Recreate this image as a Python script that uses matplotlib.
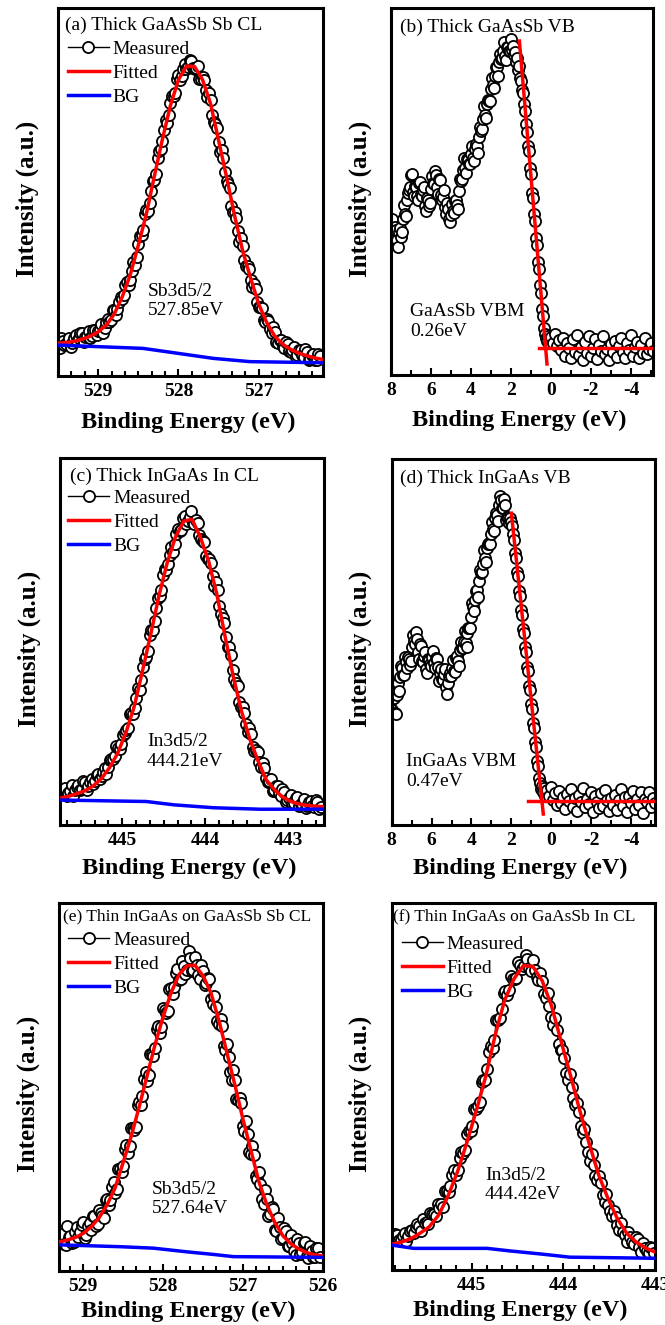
import numpy as np
import matplotlib.pyplot as plt
from matplotlib.ticker import AutoMinorLocator

plt.rcParams['font.family'] = ['Liberation Serif', 'DejaVu Serif']

# ---- (a) thick GaAsSb, Sb 3d5/2 core level (529.48 -> 526.24 eV) ----
a_meas = [7.6, 10.3, 9.6, 8.4, 8.6, 9.4, 10.4, 7.9, 9.0, 10.3, 11.2, 9.5, 10.3, 11.6, 11.8, 9.2,
          10.6, 11.0, 12.3, 10.3, 11.0, 12.6, 12.6, 11.1, 12.2, 12.6, 14.1, 11.7, 13.0, 14.8,
          15.4, 14.8, 15.1, 17.9, 17.9, 16.7, 18.2, 20.1, 21.6, 21.0, 22.0, 24.8, 25.6, 24.8,
          26.1, 28.4, 31.0, 30.2, 32.4, 35.9, 38.1, 38.4, 39.6, 43.9, 45.2, 44.9, 47.0, 50.3,
          52.9, 53.3, 55.0, 59.2, 61.2, 61.7, 63.9, 66.8, 69.6, 68.7, 71.0, 74.3, 76.2, 76.1,
          77.0, 80.8, 81.8, 80.4, 81.6, 83.4, 84.9, 83.5, 83.9, 85.8, 85.6, 83.6, 83.4, 83.7,
          84.2, 80.7, 80.6, 81.2, 80.5, 77.7, 75.8, 77.0, 75.1, 71.0, 69.1, 68.5, 67.3, 63.5,
          60.9, 61.3, 59.2, 55.3, 53.0, 52.1, 51.0, 46.3, 44.7, 44.5, 42.8, 39.3, 36.4, 37.4,
          35.3, 31.5, 30.0, 29.9, 29.1, 26.0, 24.2, 25.0, 23.6, 20.2, 18.7, 18.7, 18.6, 15.1,
          14.7, 15.6, 14.9, 12.9, 11.6, 13.3, 11.9, 9.3, 9.0, 9.8, 9.9, 8.1, 7.6, 9.3, 8.8,
          6.8, 6.5, 7.2, 7.9, 5.2, 5.8, 7.2, 7.0, 5.8, 5.2, 7.4, 6.4, 4.4, 4.7, 5.7, 5.9, 4.4,
          4.3, 6.0, 5.4]
a_fit = [8.9, 9.1, 9.4, 10.0, 10.8, 12.0, 13.8, 16.8, 21.5, 27.5, 35.5, 44.0, 54.3, 64.3,
         73.5, 80.5, 84.2, 84.1, 80.5, 74.0, 64.0, 54.0, 43.5, 34.0, 26.5, 19.5, 14.5, 10.8,
         8.6, 7.2, 6.2, 5.5, 4.9, 4.5]
a_bg_x = [529.5, 528.44, 528.02, 527.57, 527.11, 526.2]
a_bg_y = [8.4, 7.5, 6.2, 4.8, 3.9, 3.6]

# ---- (b) thick GaAsSb valence band ----
b_seg1 = [41.2, 42.4, 38.5, 37.4, 40.3, 39.6, 36.8, 34.9, 38.9, 40.0, 37.5, 39.1, 42.6, 46.3,
          44.0, 43.4, 47.8, 49.7, 50.5, 51.1, 54.6, 54.7, 49.8, 48.7, 51.6, 51.3, 48.9, 47.6,
          52.3, 52.6, 49.2, 48.8, 50.4, 51.3, 46.1, 44.7, 48.3, 47.7, 46.0, 46.9, 50.8, 54.1,
          52.4, 52.0, 55.6, 54.4, 51.2, 49.3, 53.4, 53.0, 49.0, 47.8, 48.6, 50.3, 45.9, 43.9,
          46.8, 45.2, 42.5, 41.6, 43.6, 46.7, 44.8, 44.1, 47.3, 47.8, 46.2, 45.2, 50.1, 53.3,
          52.8, 53.4, 55.9, 59.2, 56.4, 55.1, 58.8, 58.7, 57.6, 57.5, 60.3, 62.3, 59.2, 58.4,
          61.6, 63.0, 62.4, 60.6, 64.8, 67.5, 66.5, 67.1, 69.7, 73.3, 70.8, 69.9, 73.9, 74.8,
          74.6, 74.7, 77.8, 80.9, 78.9, 78.3, 81.6, 83.8, 83.9, 81.6, 85.2, 87.5, 86.1, 86.3,
          88.4, 90.7, 86.9, 85.7, 89.5, 89.4, 88.2, 88.4, 91.6]
b_seg2 = [88.5, 89.6, 87.2, 88.0, 85.4, 86.3, 83.0, 84.1, 81.0, 80.2, 77.6, 76.9, 73.8,
          71.8, 68.4, 66.1, 62.3, 60.9, 56.4, 54.8, 49.6, 48.3, 43.9, 42.0, 37.2, 35.4,
          30.8, 28.9, 24.6, 22.3, 18.1, 16.0, 12.9, 11.2, 10.1, 9.4, 10.6, 8.8, 9.9]
b_seg3 = [10.4, 8.6, 11.3, 7.9, 9.6, 6.8, 10.1, 5.2, 8.7, 7.4,
          4.6, 9.8, 6.3, 11.0, 5.5, 7.6, 4.1, 8.9, 6.0, 10.5,
          5.1, 7.3, 9.9, 4.4, 8.1, 6.6, 10.7, 5.8, 7.0, 4.0,
          8.4, 6.2, 9.3, 5.0, 7.8, 10.2, 6.4, 4.7, 8.8, 6.9,
          10.9, 5.3, 7.7, 9.1, 4.5, 8.2, 6.1, 10.0, 5.6, 7.2, 8.6, 6.5]
b_edge_x = [1.58, 0.20]
b_edge_y = [91.0, 3.0]
b_base_x = [0.58, -5.1]
b_base_y = [7.3, 7.3]

# ---- (c) thick InGaAs, In 3d5/2 core level (445.73 -> 442.61 eV) ----
c_meas = [8.9, 9.8, 10.2, 8.0, 8.6, 9.2, 10.8, 7.9, 9.5, 10.4, 11.0, 9.6, 9.8, 11.9, 11.6,
          9.6, 10.7, 11.6, 12.4, 11.2, 12.1, 13.7, 13.9, 12.5, 13.4, 14.4, 15.6, 14.0, 15.9,
          17.6, 18.1, 18.0, 18.7, 21.5, 21.0, 20.7, 22.2, 24.4, 25.1, 25.8, 26.5, 30.3, 30.6,
          30.2, 32.0, 34.5, 37.4, 36.8, 39.6, 43.0, 45.3, 45.8, 47.4, 51.7, 53.1, 53.2, 55.7,
          59.1, 61.9, 62.3, 64.0, 68.0, 69.7, 69.6, 71.2, 73.5, 75.8, 74.5, 76.5, 79.2, 80.6,
          80.1, 80.4, 83.7, 84.1, 82.0, 82.7, 83.8, 85.6, 82.4, 82.0, 83.0, 82.3, 79.0, 77.9,
          77.4, 77.0, 73.2, 72.6, 72.6, 71.3, 67.8, 65.2, 66.2, 64.1, 59.6, 57.4, 56.5, 55.0,
          51.1, 48.6, 48.6, 46.2, 42.1, 39.7, 38.8, 37.9, 33.4, 32.1, 32.1, 30.5, 27.5, 25.3,
          26.5, 24.7, 21.2, 20.1, 20.3, 19.9, 17.1, 15.8, 16.8, 15.6, 12.7, 11.8, 12.0, 12.6,
          9.3, 9.6, 10.6, 10.5, 8.6, 8.0, 9.7, 9.0, 6.4, 6.7, 7.4, 8.2, 5.9, 6.0, 7.4, 7.5,
          5.2, 5.6, 5.8, 7.0, 4.6, 5.3, 6.3, 6.6, 5.1, 4.9, 6.9, 6.3, 4.4, 4.8]
c_fit = [7.3, 7.8, 8.5, 9.3, 10.6, 12.6, 15.6, 19.6, 25.2, 32.3, 42.0, 52.0, 62.5, 71.5,
         78.5, 82.8, 83.3, 78.5, 72.0, 63.0, 51.5, 40.5, 31.0, 23.5, 17.5, 12.3, 9.6, 7.6,
         6.4, 5.7, 5.3, 5.1, 5.0]
c_bg_x = [445.75, 444.71, 444.38, 443.90, 443.34, 442.57]
c_bg_y = [6.8, 6.4, 5.5, 4.7, 4.3, 4.3]

# ---- (d) thick InGaAs valence band ----
d_seg1 = [31.5, 35.7, 34.8, 30.5, 30.2, 35.6, 38.9, 36.7, 40.5, 43.5, 42.8, 40.9, 41.0, 45.8,
          44.6, 42.8, 45.9, 45.4, 43.8, 44.8, 48.7, 52.0, 50.3, 49.5, 52.6, 50.9, 47.2, 45.4,
          49.5, 49.0, 44.8, 44.5, 46.1, 47.4, 42.6, 41.5, 45.3, 45.1, 43.9, 43.5, 46.0, 47.6,
          44.2, 42.9, 45.5, 45.3, 43.1, 39.4, 41.6, 42.5, 39.8, 39.6, 41.3, 42.5, 37.6, 35.8,
          38.9, 40.7, 41.5, 40.8, 43.0, 45.1, 42.2, 41.9, 45.6, 46.3, 44.9, 43.4, 47.8, 49.9,
          48.4, 48.3, 50.1, 52.9, 49.6, 48.6, 52.5, 53.7, 53.9, 53.9, 56.8, 60.7, 59.5, 58.5,
          61.4, 63.8, 64.2, 62.4, 66.6, 69.6, 68.9, 69.1, 71.2, 75.1, 73.0, 71.8, 75.6, 76.9,
          77.1, 76.8, 79.4, 82.7, 81.0, 80.4, 83.8, 85.2, 84.6, 83.0, 87.3, 89.9, 88.9, 86.7,
          86.5, 89.0, 87.4, 83.3, 84.1, 83.9, 82.6]
d_seg2 = [84.0, 82.9, 81.6, 79.4, 77.9, 74.2, 73.0, 69.1, 67.9, 63.8, 62.6, 58.7, 57.5,
          53.6, 52.4, 48.5, 47.3, 43.2, 42.0, 38.1, 36.9, 33.0, 31.8, 27.9, 26.6, 22.7,
          21.4, 17.6, 16.2, 12.8, 11.4, 9.7, 10.6, 8.9, 10.2, 8.0]
d_seg3 = [9.6, 7.8, 10.3, 6.9, 8.8, 5.4, 9.2, 6.1, 7.7, 4.3,
          8.5, 6.6, 9.9, 5.0, 7.3, 3.8, 8.1, 6.4, 10.2, 4.9,
          7.0, 5.7, 9.0, 3.5, 7.9, 6.2, 4.6, 8.7, 5.3, 9.5,
          6.8, 3.9, 7.4, 5.6, 8.3, 4.2, 6.9, 9.7, 5.1, 7.6,
          3.6, 8.0, 6.0, 9.3, 4.4, 7.2, 5.5, 8.9, 3.3, 7.1, 6.3, 9.1, 4.8, 7.5, 6.0]
d_edge_x = [2.0, 0.40]
d_edge_y = [85.2, 3.0]
d_base_x = [1.15, -5.2]
d_base_y = [6.65, 6.65]

# ---- (e) thin InGaAs on GaAsSb, Sb 3d5/2 (529.28 -> 526.04 eV) ----
e_meas = [10.8, 10.1, 7.4, 7.1, 12.1, 9.2, 9.6, 7.6, 7.8, 10.6, 11.9, 9.1, 10.5, 12.6, 13.3,
          9.0, 9.8, 12.1, 12.9, 11.2, 14.8, 15.0, 12.2, 12.8, 16.6, 15.8, 15.0, 14.4, 19.4,
          19.5, 17.8, 19.4, 22.9, 24.3, 21.3, 22.4, 27.6, 27.6, 26.9, 28.6, 33.2, 34.3, 32.1,
          33.9, 38.7, 38.7, 38.3, 39.1, 45.1, 46.0, 45.0, 47.6, 52.2, 54.0, 51.6, 53.1, 58.9,
          58.9, 58.3, 60.5, 65.7, 66.5, 64.6, 66.3, 71.4, 70.9, 70.1, 70.7, 76.6, 76.8, 75.2,
          77.1, 81.0, 82.1, 79.1, 79.4, 84.3, 82.8, 80.6, 81.8, 86.9, 85.0, 81.4, 81.8, 85.3,
          83.1, 80.5, 79.2, 83.0, 81.5, 77.6, 78.1, 79.5, 79.2, 73.9, 72.4, 74.6, 71.8, 67.8,
          67.0, 68.4, 66.6, 61.0, 59.9, 61.5, 58.2, 53.9, 51.8, 54.6, 51.9, 46.8, 46.4, 47.1,
          45.7, 39.5, 38.1, 40.6, 37.1, 32.4, 31.9, 33.9, 31.5, 25.7, 24.9, 26.8, 23.7, 19.5,
          18.3, 22.0, 19.5, 14.8, 15.6, 17.3, 16.7, 11.2, 10.9, 14.5, 11.9, 8.6, 8.9, 11.6,
          10.8, 6.7, 6.7, 9.9, 7.7, 5.3, 4.4, 8.6, 7.5, 4.5, 5.2, 7.7, 7.8, 4.1, 3.6, 6.8,
          5.5, 3.9, 3.7, 6.2, 6.3, 3.8]
e_fit = [7.9, 8.4, 9.1, 10.2, 12.0, 14.5, 18.0, 22.6, 29.5, 36.5, 44.5, 53.0, 61.5, 69.0,
         75.5, 80.5, 82.9, 83.0, 80.2, 75.5, 68.0, 59.3, 50.5, 41.3, 32.8, 24.3, 18.0, 13.2,
         9.6, 7.4, 6.0, 5.0, 4.4, 4.1]
e_bg_x = [529.3, 528.54, 528.12, 527.70, 527.37, 527.12, 526.0]
e_bg_y = [7.1, 6.6, 6.2, 5.2, 4.5, 3.9, 3.7]

# ---- (f) thin InGaAs on GaAsSb, In 3d5/2 (445.85 -> 443.01 eV) ----
f_meas = [8.4, 9.9, 9.6, 8.2, 8.1, 9.3, 10.2, 8.0, 9.3, 10.7, 11.0, 10.1, 11.7, 12.6, 12.0,
          10.6, 13.8, 12.8, 13.2, 12.5, 15.6, 15.3, 15.4, 14.6, 18.1, 16.9, 17.9, 17.1, 21.5,
          21.5, 21.4, 22.8, 25.8, 27.3, 25.9, 27.4, 30.6, 32.1, 31.9, 32.8, 37.0, 37.9, 37.8,
          39.4, 43.9, 43.8, 44.6, 45.9, 51.3, 51.9, 51.9, 54.9, 59.5, 61.2, 60.6, 62.8, 68.1,
          68.3, 68.7, 71.1, 75.6, 76.0, 74.9, 76.3, 80.3, 79.4, 79.4, 79.6, 83.9, 83.3, 82.2,
          82.9, 85.9, 84.7, 82.4, 81.5, 84.6, 81.8, 79.8, 79.2, 81.1, 78.9, 75.4, 74.2, 75.6,
          71.9, 69.0, 66.8, 68.6, 65.4, 61.7, 60.0, 60.1, 57.9, 53.6, 51.9, 53.5, 49.9, 46.8,
          45.0, 45.6, 43.0, 39.3, 37.4, 38.4, 34.8, 32.2, 29.8, 31.7, 28.7, 25.6, 24.5, 25.5,
          23.8, 20.4, 18.6, 20.6, 17.8, 16.0, 14.6, 16.1, 14.5, 12.3, 10.9, 12.7, 10.4, 9.5,
          7.7, 10.4, 9.0, 7.6, 7.1, 8.9, 8.4, 6.2, 5.0, 7.4, 6.0, 5.2, 4.6, 6.3, 6.1, 4.6]
f_fit = [7.0, 7.6, 8.5, 10.0, 11.8, 15.0, 20.2, 26.8, 34.8, 43.5, 52.8, 64.0, 73.5, 79.4,
         83.0, 82.8, 78.9, 72.0, 62.5, 53.2, 43.5, 34.5, 26.0, 19.5, 14.0, 10.0, 7.6, 6.0, 4.9]
f_bg_x = [445.87, 445.63, 444.83, 444.58, 444.22, 443.93, 443.0]
f_bg_y = [6.8, 5.9, 5.9, 5.2, 4.3, 3.5, 3.2]

W, H = 665, 1325
fig = plt.figure(figsize=(W / 100, H / 100), dpi=100)


def make_axes(x0, y0, x1, y1):
    # pixel box of the frame -> figure fraction
    ax = fig.add_axes([x0 / W, 1 - y1 / H, (x1 - x0) / W, (y1 - y0) / H])
    ax._px = (x1 - x0, y1 - y0)
    return ax


def style(ax, xlim, ticks, nminor, xl_off=44):
    ax.set_xlim(*xlim)
    ax.set_ylim(0, 100)
    ax.set_xticks(ticks)
    ax.set_xticklabels([f'{t:g}' for t in ticks], fontsize=14, fontweight='bold')
    ax.xaxis.set_minor_locator(AutoMinorLocator(nminor))
    ax.set_yticks([])
    ax.tick_params(axis='x', which='both', direction='in', top=False, width=1.5, pad=5)
    ax.tick_params(axis='x', which='major', length=5)
    ax.tick_params(axis='x', which='minor', length=3.5)
    for s in ax.spines.values():
        s.set_linewidth(2.2)
    w, h = ax._px
    ax.set_xlabel('Binding Energy (eV)', fontsize=17.5, fontweight='bold', va='center')
    ax.xaxis.set_label_coords(0.49, -xl_off / h)
    ax.set_ylabel('Intensity (a.u.)', fontsize=18, fontweight='bold', va='center')
    ax.yaxis.set_label_coords(-31 / w, 0.48)


def core_level(ax, xlim, mx, meas, fit, bgx, bgy):
    ax.plot(np.linspace(mx[0], mx[1], len(meas)), meas, '-o', color='black', lw=1,
            ms=8, mfc='white', mec='black', mew=1.3, label='Measured', zorder=2)
    ax.plot(np.linspace(xlim[0], xlim[1], len(fit)), fit, color='#ff0000', lw=2.5,
            label='Fitted', zorder=3)
    ax.plot(bgx, bgy, color='#0000ff', lw=2.5, label='BG', zorder=3)


def legend(ax, x, y):
    ax.legend(loc='upper left', bbox_to_anchor=(x, y), frameon=False, fontsize=14,
              handlelength=2.1, handletextpad=0.2, labelspacing=0.33, borderpad=0,
              borderaxespad=0, numpoints=1)


def valence(ax, segs, ranges, ex, ey, bx, by):
    xs = np.concatenate([np.linspace(r[0], r[1], len(s)) for s, r in zip(segs, ranges)])
    ys = np.concatenate(segs)
    ax.plot(xs, ys, '-o', color='black', lw=0.8, ms=8, mfc='white', mec='black',
            mew=1.3, zorder=2)
    ax.plot(ex, ey, color='#ff0000', lw=2.5, zorder=3)
    ax.plot(bx, by, color='#ff0000', lw=2.5, zorder=3)


# (a)
ax = make_axes(58, 8, 323, 376)
core_level(ax, (529.5, 526.2), (529.48, 526.24), a_meas, a_fit, a_bg_x, a_bg_y)
style(ax, (529.5, 526.2), [529, 528, 527], 6, xl_off=46)
ax.text(0.026, 0.954, '(a) Thick GaAsSb Sb CL', transform=ax.transAxes, fontsize=14, va='center')
legend(ax, 0.038, 0.912)
ax.text(0.34, 0.204, 'Sb3d5/2\n527.85eV', transform=ax.transAxes, fontsize=14, va='center')

# (b)
ax = make_axes(391, 8, 653, 375)
valence(ax, [b_seg1, b_seg2, b_seg3], [(8.0, 2.0), (1.95, 0.05), (0.0, -5.1)],
        b_edge_x, b_edge_y, b_base_x, b_base_y)
style(ax, (8, -5.1), [8, 6, 4, 2, 0, -2, -4], 2, xl_off=45)
ax.text(0.034, 0.948, '(b) Thick GaAsSb VB', transform=ax.transAxes, fontsize=14, va='center')
ax.text(0.073, 0.145, 'GaAsSb VBM\n0.26eV', transform=ax.transAxes, fontsize=14, va='center')

# (c)
ax = make_axes(60, 458, 324, 825)
core_level(ax, (445.75, 442.57), (445.73, 442.61), c_meas, c_fit, c_bg_x, c_bg_y)
style(ax, (445.75, 442.57), [445, 444, 443], 6, xl_off=43)
ax.text(0.038, 0.95, '(c) Thick InGaAs In CL', transform=ax.transAxes, fontsize=14, va='center')
legend(ax, 0.031, 0.914)
ax.text(0.33, 0.2, 'In3d5/2\n444.21eV', transform=ax.transAxes, fontsize=14, va='center')

# (d)
ax = make_axes(391.7, 459, 655, 825)
valence(ax, [d_seg1, d_seg2, d_seg3], [(8.0, 2.1), (2.05, 0.30), (0.2, -5.2)],
        d_edge_x, d_edge_y, d_base_x, d_base_y)
style(ax, (8, -5.2), [8, 6, 4, 2, 0, -2, -4], 2, xl_off=43)
ax.text(0.032, 0.948, '(d) Thick InGaAs VB', transform=ax.transAxes, fontsize=14, va='center')
ax.text(0.054, 0.146, 'InGaAs VBM\n0.47eV', transform=ax.transAxes, fontsize=14, va='center')

# (e)
ax = make_axes(59.3, 902.7, 322.7, 1271)
core_level(ax, (529.3, 526.0), (529.28, 526.04), e_meas, e_fit, e_bg_x, e_bg_y)
style(ax, (529.3, 526.0), [529, 528, 527, 526], 6, xl_off=40)
ax.text(0.014, 0.962, '(e) Thin InGaAs on GaAsSb Sb CL', transform=ax.transAxes,
        fontsize=12.5, va='center')
legend(ax, 0.034, 0.922)
ax.text(0.352, 0.196, 'Sb3d5/2\n527.64eV', transform=ax.transAxes, fontsize=14, va='center')

# (f)
ax = make_axes(391.7, 903.3, 655, 1270)
core_level(ax, (445.87, 443.0), (445.85, 443.01), f_meas, f_fit, f_bg_x, f_bg_y)
style(ax, (445.87, 443.0), [445, 444, 443], 6, xl_off=40)
ax.text(0.006, 0.963, '(f) Thin InGaAs on GaAsSb In CL', transform=ax.transAxes,
        fontsize=12.5, va='center')
legend(ax, 0.038, 0.912)
ax.text(0.354, 0.232, 'In3d5/2\n444.42eV', transform=ax.transAxes, fontsize=14, va='center')

fig.savefig('out.png', dpi=100)
